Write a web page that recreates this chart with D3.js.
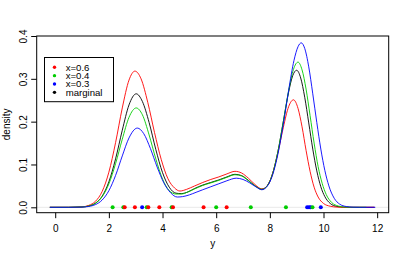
<!DOCTYPE html>
<html>
<head>
<meta charset="utf-8">
<script src="https://cdn.jsdelivr.net/npm/d3@7"></script>
<style>
  body { margin: 0; background: #fff; }
  svg text { font-family: "Liberation Sans", Arial, sans-serif; font-size: 10px; fill: #000; }
  svg .legend text { font-size: 9.6px; }
</style>
</head>
<body>
<svg id="chart" width="407" height="259"></svg>
<script>
// density curves: [y value, density]
const redPts = [[-0.2,0],[0.5,0],[1.0,0.001],[1.25,0.0045],[1.5,0.014],[1.75,0.037],[2.0,0.082],[2.25,0.151],[2.5,0.232],[2.75,0.297],[2.97,0.318],[3.2,0.300],[3.45,0.245],[3.7,0.175],[3.95,0.112],[4.2,0.067],[4.45,0.045],[4.65,0.038],[4.9,0.042],[5.2,0.050],[5.5,0.058],[5.8,0.065],[6.1,0.071],[6.4,0.078],[6.7,0.084],[6.95,0.080],[7.2,0.068],[7.45,0.053],[7.7,0.043],[7.9,0.050],[8.1,0.078],[8.3,0.127],[8.5,0.186],[8.7,0.235],[8.88,0.251],[9.05,0.231],[9.2,0.188],[9.35,0.133],[9.5,0.084],[9.65,0.047],[9.8,0.024],[10.0,0.009],[10.25,0.0025],[10.5,0.0005],[10.75,0],[11.9,0]];
const greenPts = [[-0.2,0],[0.5,0],[1.0,0.0008],[1.25,0.003],[1.5,0.0094],[1.75,0.0247],[2.0,0.0547],[2.25,0.102],[2.5,0.159],[2.75,0.210],[3.02,0.232],[3.25,0.216],[3.5,0.169],[3.75,0.113],[4.0,0.066],[4.25,0.039],[4.5,0.031],[4.7,0.031],[4.95,0.036],[5.2,0.043],[5.5,0.051],[5.8,0.057],[6.1,0.063],[6.4,0.070],[6.7,0.076],[6.95,0.073],[7.2,0.062],[7.45,0.050],[7.7,0.042],[7.9,0.050],[8.1,0.078],[8.3,0.1295],[8.5,0.199],[8.7,0.2725],[8.88,0.322],[9.05,0.339],[9.2,0.321],[9.35,0.276],[9.5,0.214],[9.65,0.150],[9.8,0.095],[9.95,0.056],[10.1,0.030],[10.3,0.0115],[10.55,0.003],[10.8,0.0005],[11.05,0],[11.6,0]];
const bluePts = [[-0.2,0],[0.5,0],[1.0,0.0005],[1.25,0.002],[1.5,0.0063],[1.75,0.017],[2.0,0.0388],[2.25,0.0744],[2.5,0.120],[2.75,0.162],[3.06,0.185],[3.3,0.172],[3.55,0.137],[3.8,0.094],[4.05,0.057],[4.3,0.034],[4.55,0.024],[4.75,0.025],[5.0,0.029],[5.25,0.035],[5.5,0.041],[5.8,0.048],[6.1,0.055],[6.4,0.062],[6.75,0.068],[7.0,0.065],[7.25,0.057],[7.5,0.047],[7.7,0.041],[7.9,0.049],[8.1,0.075],[8.3,0.124],[8.5,0.193],[8.7,0.273],[8.9,0.343],[9.05,0.375],[9.17,0.384],[9.3,0.371],[9.45,0.328],[9.6,0.265],[9.75,0.198],[9.9,0.136],[10.05,0.086],[10.2,0.050],[10.4,0.021],[10.6,0.0075],[10.85,0.0018],[11.1,0.0003],[11.35,0],[11.93,0]];
const marginalPts = [[-0.2,0],[0.5,0],[1.0,0.0008],[1.25,0.003],[1.5,0.0096],[1.75,0.026],[2.0,0.0595],[2.25,0.113],[2.5,0.180],[2.75,0.239],[3.02,0.265],[3.25,0.247],[3.5,0.198],[3.75,0.135],[4.0,0.081],[4.25,0.047],[4.5,0.033],[4.7,0.032],[4.95,0.036],[5.2,0.044],[5.5,0.052],[5.8,0.058],[6.1,0.064],[6.4,0.071],[6.7,0.077],[6.95,0.074],[7.2,0.063],[7.45,0.050],[7.7,0.042],[7.9,0.050],[8.1,0.078],[8.3,0.130],[8.5,0.1995],[8.7,0.269],[8.85,0.307],[9.0,0.320],[9.15,0.302],[9.3,0.257],[9.45,0.197],[9.6,0.136],[9.75,0.085],[9.9,0.048],[10.05,0.025],[10.25,0.009],[10.5,0.002],[10.75,0.0003],[11.0,0],[11.9,0]];

// rug points along density 0
const rugRed   = [2.59, 2.97, 3.47, 3.88, 4.39, 5.53, 6.39];
const rugGreen = [2.14, 2.54, 3.41, 4.34, 6.00, 7.29, 8.60, 9.59];
const rugBlue  = [3.24, 9.39, 9.46, 9.52, 9.90];

const xTicks = [0, 2, 4, 6, 8, 10, 12];
const yTicks = [0, 0.1, 0.2, 0.3, 0.4];
const legendLabels = ["x=0.6", "x=0.4", "x=0.3", "marginal"];
const legendColors = ["#ff0000", "#00cd00", "#0000ff", "#000000"];

const COL = { red: "#ff0000", green: "#00cd00", blue: "#0000ff", black: "#000000" };

const box = { left: 36.7, right: 388.7, top: 36, bottom: 212.7 };
const svg = d3.select("#chart");

const x = d3.scaleLinear().domain([-0.69, 12.43]).range([box.left, box.right]);
const y = d3.scaleLinear().domain([-0.0126, 0.4]).range([box.bottom, box.top]);

// zero line (plot.density style)
svg.append("line")
  .attr("x1", box.left).attr("x2", box.right)
  .attr("y1", y(0)).attr("y2", y(0))
  .attr("stroke", "#d9d9d9").attr("stroke-width", 0.6);

// curves
const line = d3.line()
  .x(d => x(d[0]))
  .y(d => y(d[1]))
  .curve(d3.curveMonotoneX);

const series = [
  { pts: marginalPts, col: COL.black },
  { pts: redPts,      col: COL.red },
  { pts: greenPts,    col: COL.green },
  { pts: bluePts,     col: COL.blue }
];
svg.append("g").selectAll("path")
  .data(series)
  .enter().append("path")
    .attr("d", d => line(d.pts))
    .attr("fill", "none")
    .attr("stroke", d => d.col)
    .attr("stroke-width", 0.9);

// rug dots
const rug = [
  ...rugBlue.map(v => ({ v, col: COL.blue })),
  ...rugGreen.map(v => ({ v, col: COL.green })),
  ...rugRed.map(v => ({ v, col: COL.red }))
];
svg.append("g").selectAll("circle")
  .data(rug)
  .enter().append("circle")
    .attr("cx", d => x(d.v))
    .attr("cy", y(0))
    .attr("r", 2)
    .attr("fill", d => d.col);

// frame
svg.append("rect")
  .attr("x", box.left).attr("y", box.top)
  .attr("width", box.right - box.left).attr("height", box.bottom - box.top)
  .attr("fill", "none").attr("stroke", "#000").attr("stroke-width", 1);

// axes
const xAxis = svg.append("g")
  .attr("transform", `translate(0,${box.bottom})`)
  .call(d3.axisBottom(x).tickValues(xTicks).tickFormat(d3.format("d")).tickSize(5.5).tickSizeOuter(0));
xAxis.select(".domain").remove();
xAxis.selectAll("line").attr("stroke", "#000");
xAxis.selectAll("text")
  .attr("y", 19).attr("dy", 0)
  .attr("font-family", null).attr("font-size", null);

const yAxis = svg.append("g")
  .attr("transform", `translate(${box.left},0)`)
  .call(d3.axisLeft(y).tickValues(yTicks).tickFormat(d3.format(".1f")).tickSize(5.5).tickSizeOuter(0));
yAxis.select(".domain").remove();
yAxis.selectAll("line").attr("stroke", "#000");
yAxis.selectAll("text")
  .attr("transform", "rotate(-90)")
  .attr("x", 0).attr("y", -10).attr("dy", 0)
  .attr("text-anchor", "middle")
  .attr("font-family", null).attr("font-size", null);

// axis titles
svg.append("text")
  .attr("x", (box.left + box.right) / 2).attr("y", 247)
  .attr("text-anchor", "middle")
  .text("y");
svg.append("text")
  .attr("transform", `translate(10,${(box.top + box.bottom) / 2}) rotate(-90)`)
  .attr("text-anchor", "middle")
  .text("density");

// legend
const lg = svg.append("g").attr("class", "legend");
lg.append("rect")
  .attr("x", 44.5).attr("y", 57.5).attr("width", 69).attr("height", 44.2)
  .attr("fill", "#fff").attr("stroke", "#000").attr("stroke-width", 1);
const rows = lg.selectAll("g.row")
  .data(legendLabels)
  .enter().append("g")
    .attr("class", "row")
    .attr("transform", (d, i) => `translate(0,${67.3 + i * 8.35})`);
rows.append("circle")
  .attr("cx", 54.5).attr("cy", 0).attr("r", 1.7)
  .attr("fill", (d, i) => legendColors[i]);
rows.append("text")
  .attr("x", 65.7).attr("y", 3.3)
  .text(d => d);
</script>
</body>
</html>
